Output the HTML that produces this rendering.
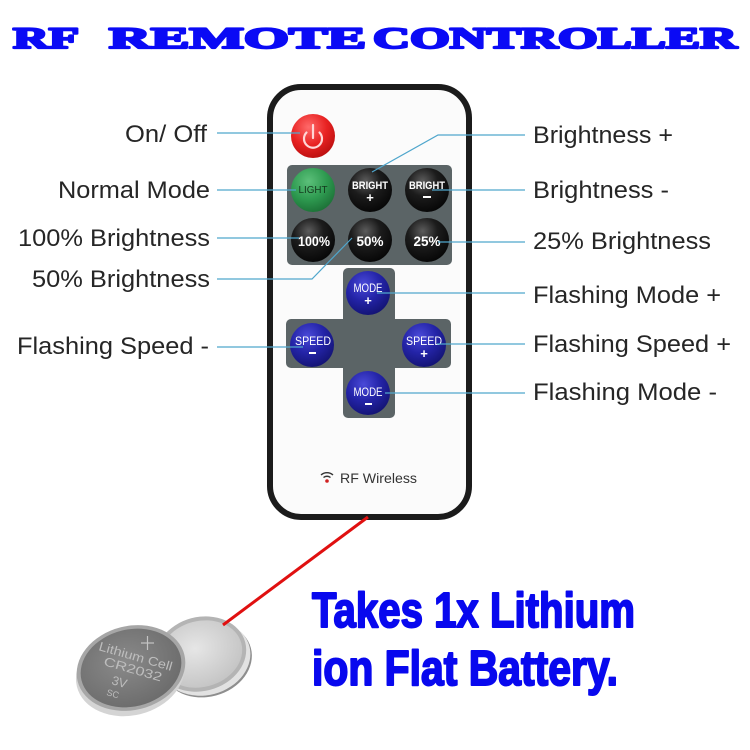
<!DOCTYPE html>
<html><head><meta charset="utf-8"><style>
html,body{margin:0;padding:0;background:#fff;}
svg{display:block;}
</style></head><body>
<svg width="750" height="750" viewBox="0 0 750 750" xmlns="http://www.w3.org/2000/svg">
<defs>
<radialGradient id="gBlack" cx="0.4" cy="0.3" r="0.75">
<stop offset="0" stop-color="#5c5c5c"/><stop offset="0.45" stop-color="#1c1c1c"/><stop offset="1" stop-color="#050505"/>
</radialGradient>
<radialGradient id="gBlue" cx="0.4" cy="0.3" r="0.75">
<stop offset="0" stop-color="#4a4ad8"/><stop offset="0.5" stop-color="#2424a8"/><stop offset="1" stop-color="#121270"/>
</radialGradient>
<radialGradient id="gGreen" cx="0.4" cy="0.3" r="0.75">
<stop offset="0" stop-color="#5cc07a"/><stop offset="0.55" stop-color="#2e9a50"/><stop offset="1" stop-color="#1b6e35"/>
</radialGradient>
<radialGradient id="gRed" cx="0.4" cy="0.3" r="0.75">
<stop offset="0" stop-color="#ff6a6a"/><stop offset="0.55" stop-color="#e82222"/><stop offset="1" stop-color="#b80e0e"/>
</radialGradient>
<radialGradient id="gSilver" cx="0.45" cy="0.4" r="0.7">
<stop offset="0" stop-color="#e6e6e6"/><stop offset="1" stop-color="#c0c0c0"/>
</radialGradient>
<radialGradient id="gDark" cx="0.45" cy="0.4" r="0.7">
<stop offset="0" stop-color="#8a8a8a"/><stop offset="1" stop-color="#686868"/>
</radialGradient>
</defs>

<!-- Title -->
<g font-family="Liberation Serif, serif" font-weight="bold" font-size="30" fill="#0a0af5" stroke="#0a0af5" stroke-width="2.2" stroke-linejoin="round">
<text x="13" y="48" textLength="66" lengthAdjust="spacingAndGlyphs">RF</text>
<text x="109" y="48" textLength="257" lengthAdjust="spacingAndGlyphs">REMOTE</text>
<text x="373" y="48" textLength="364" lengthAdjust="spacingAndGlyphs">CONTROLLER</text>
</g>

<!-- Remote body -->
<rect x="270" y="87" width="199" height="430" rx="31" ry="31" fill="#fbfbfb" stroke="#1b1b1b" stroke-width="6"/>

<!-- Power button -->
<circle cx="313" cy="136" r="22" fill="url(#gRed)"/>
<path d="M306.5 132.5 A9 9 0 1 0 319.5 132.5" fill="none" stroke="#ffd6d6" stroke-width="2.2" stroke-linecap="round"/>
<line x1="313" y1="125" x2="313" y2="138" stroke="#ffd6d6" stroke-width="2.2" stroke-linecap="round"/>

<!-- Gray panel -->
<rect x="287" y="165" width="165" height="100" rx="5" fill="#5b6466"/>
<circle cx="313" cy="190" r="22" fill="url(#gGreen)"/>
<circle cx="370" cy="190" r="22" fill="url(#gBlack)"/>
<circle cx="427" cy="190" r="22" fill="url(#gBlack)"/>
<circle cx="313" cy="240" r="22" fill="url(#gBlack)"/>
<circle cx="370" cy="240" r="22" fill="url(#gBlack)"/>
<circle cx="427" cy="240" r="22" fill="url(#gBlack)"/>
<g font-family="Liberation Sans, sans-serif" text-anchor="middle">
<text x="313" y="193" font-size="10.5" fill="#143a1e" textLength="29" lengthAdjust="spacingAndGlyphs">LIGHT</text>
<text x="370" y="189" font-size="11" font-weight="bold" fill="#fff" textLength="36" lengthAdjust="spacingAndGlyphs">BRIGHT</text>
<text x="370" y="202" font-size="13" font-weight="bold" fill="#fff">+</text>
<text x="427" y="189" font-size="11" font-weight="bold" fill="#fff" textLength="36" lengthAdjust="spacingAndGlyphs">BRIGHT</text>
<rect x="423" y="196" width="8" height="2" fill="#fff"/>
<text x="314" y="246" font-size="13.5" font-weight="bold" fill="#fff" textLength="32" lengthAdjust="spacingAndGlyphs">100%</text>
<text x="370" y="246" font-size="13.5" font-weight="bold" fill="#fff">50%</text>
<text x="427" y="246" font-size="13.5" font-weight="bold" fill="#fff">25%</text>
</g>

<!-- Cross pad -->
<rect x="343" y="268" width="52" height="150" rx="5" fill="#5b6466"/>
<rect x="286" y="319" width="165" height="49" rx="5" fill="#5b6466"/>
<circle cx="368" cy="293" r="22" fill="url(#gBlue)"/>
<circle cx="312" cy="345" r="22" fill="url(#gBlue)"/>
<circle cx="424" cy="345" r="22" fill="url(#gBlue)"/>
<circle cx="368" cy="393" r="22" fill="url(#gBlue)"/>
<g font-family="Liberation Sans, sans-serif" text-anchor="middle" fill="#fff" font-size="11.5">
<text x="368" y="292" textLength="29" lengthAdjust="spacingAndGlyphs">MODE</text>
<text x="368" y="305" font-size="13" font-weight="bold">+</text>
<text x="313" y="345" textLength="36" lengthAdjust="spacingAndGlyphs">SPEED</text>
<rect x="309" y="352" width="7" height="2" fill="#fff"/>
<text x="424" y="345" textLength="36" lengthAdjust="spacingAndGlyphs">SPEED</text>
<text x="424" y="358" font-size="13" font-weight="bold">+</text>
<text x="368" y="396" textLength="29" lengthAdjust="spacingAndGlyphs">MODE</text>
<rect x="365" y="403" width="7" height="2" fill="#fff"/>
</g>

<!-- RF Wireless -->
<g fill="none" stroke="#333" stroke-width="1.4">
<path d="M321 475 A9 9 0 0 1 333 475"/>
<path d="M323.5 477.5 A5.5 5.5 0 0 1 330.5 477.5"/>
</g>
<circle cx="327" cy="481" r="1.8" fill="#d02020"/>
<text x="340" y="483" font-family="Liberation Sans, sans-serif" font-size="14" fill="#333" textLength="77" lengthAdjust="spacingAndGlyphs">RF Wireless</text>

<!-- Connector lines -->
<g stroke="#4fa6cc" stroke-width="1.2" fill="none">
<polyline points="217,133 300,133"/>
<polyline points="217,190 296,190"/>
<polyline points="217,238 299,238"/>
<polyline points="217,279 312,279 352,238"/>
<polyline points="217,347 303,347"/>
<polyline points="525,135 438,135 372,172"/>
<polyline points="432,190 525,190"/>
<polyline points="438,242 525,242"/>
<polyline points="377,293 525,293"/>
<polyline points="437,344 525,344"/>
<polyline points="385,393 525,393"/>
</g>

<!-- Labels -->
<g font-family="Liberation Sans, sans-serif" font-size="24.5" fill="#262626">
<text x="207" y="142" text-anchor="end" textLength="82" lengthAdjust="spacingAndGlyphs">On/ Off</text>
<text x="210" y="198" text-anchor="end" textLength="152" lengthAdjust="spacingAndGlyphs">Normal Mode</text>
<text x="210" y="246" text-anchor="end" textLength="192" lengthAdjust="spacingAndGlyphs">100% Brightness</text>
<text x="210" y="287" text-anchor="end" textLength="178" lengthAdjust="spacingAndGlyphs">50% Brightness</text>
<text x="209" y="354" text-anchor="end" textLength="192" lengthAdjust="spacingAndGlyphs">Flashing Speed -</text>
<text x="533" y="143" textLength="140" lengthAdjust="spacingAndGlyphs">Brightness +</text>
<text x="533" y="198" textLength="136" lengthAdjust="spacingAndGlyphs">Brightness -</text>
<text x="533" y="249" textLength="178" lengthAdjust="spacingAndGlyphs">25% Brightness</text>
<text x="533" y="303" textLength="188" lengthAdjust="spacingAndGlyphs">Flashing Mode +</text>
<text x="533" y="352" textLength="198" lengthAdjust="spacingAndGlyphs">Flashing Speed +</text>
<text x="533" y="400" textLength="184" lengthAdjust="spacingAndGlyphs">Flashing Mode -</text>
</g>

<!-- Batteries -->
<g transform="rotate(-15 201 655)">
<ellipse cx="205" cy="661" rx="46" ry="37" fill="#8e8e8e"/>
<ellipse cx="204" cy="659" rx="46" ry="37" fill="#e2e2e2"/>
<ellipse cx="201" cy="654" rx="46" ry="37" fill="#b4b4b4"/>
<ellipse cx="201" cy="654" rx="42" ry="33" fill="url(#gSilver)"/>
</g>
<g transform="rotate(-14 131 668)">
<ellipse cx="129" cy="673" rx="55" ry="42" fill="#d4d4d4"/>
<ellipse cx="131" cy="668" rx="55" ry="42" fill="#a6a6a6"/>
<ellipse cx="131" cy="668" rx="51" ry="38.5" fill="url(#gDark)"/>
</g>
<g font-family="Liberation Sans, sans-serif" fill="#bdbdbd" font-size="12.5">
<text x="0" y="0" transform="translate(98 650) rotate(16)" textLength="76" lengthAdjust="spacingAndGlyphs">Lithium Cell</text>
<text x="0" y="0" transform="translate(103 665) rotate(16)" textLength="60" lengthAdjust="spacingAndGlyphs">CR2032</text>
<text x="0" y="0" transform="translate(111 684) rotate(16)">3V</text>
<text x="0" y="0" transform="translate(106 695) rotate(16)" font-size="9">SC</text>
</g>
<g stroke="#c4c4c4" stroke-width="1.2">
<line x1="141" y1="643" x2="154" y2="643"/>
<line x1="147.5" y1="636" x2="147.5" y2="650"/>
</g>

<!-- Red pointer -->
<line x1="368" y1="517" x2="223" y2="625" stroke="#e01010" stroke-width="3"/>

<!-- Bottom text -->
<g font-family="Liberation Sans, sans-serif" font-weight="bold" font-size="49" fill="#0808ee" stroke="#0808ee" stroke-width="2" stroke-linejoin="round">
<text x="312" y="627" textLength="323" lengthAdjust="spacingAndGlyphs">Takes 1x Lithium</text>
<text x="312" y="685" textLength="306" lengthAdjust="spacingAndGlyphs">ion Flat Battery.</text>
</g>
</svg>
</body></html>
